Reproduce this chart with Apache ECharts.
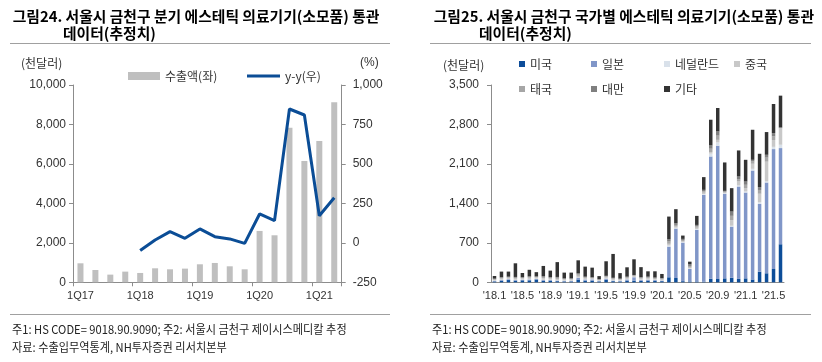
<!DOCTYPE html>
<html><head><meta charset="utf-8">
<script src="https://cdn.jsdelivr.net/npm/echarts@6/dist/echarts.min.js"></script>
<style>html,body{margin:0;padding:0;background:#fff}#c{width:822px;height:362px}</style>
</head><body><div id="c"></div>
<script>
// ---- Left chart data (quarterly) ----
const quarters = ['1Q17','2Q17','3Q17','4Q17','1Q18','2Q18','3Q18','4Q18','1Q19','2Q19','3Q19','4Q19','1Q20','2Q20','3Q20','4Q20','1Q21','2Q21'];
const exportValues = [963,625,389,541,473,710,659,693,913,980,811,659,2603,2383,7838,6150,7164,9126];
const yoyValues = [null,null,null,null,-49,18,71,29,88,39,25,-3,183,141,848,810,172,286];

// ---- Right chart data (monthly, '18.1 ~ '21.6) ----
const months = ["'18.1","'18.2","'18.3","'18.4","'18.5","'18.6","'18.7","'18.8","'18.9","'18.10","'18.11","'18.12",
  "'19.1","'19.2","'19.3","'19.4","'19.5","'19.6","'19.7","'19.8","'19.9","'19.10","'19.11","'19.12",
  "'20.1","'20.2","'20.3","'20.4","'20.5","'20.6","'20.7","'20.8","'20.9","'20.10","'20.11","'20.12",
  "'21.1","'21.2","'21.3","'21.4","'21.5","'21.6"];
const usa = [15,30,40,30,35,35,50,25,30,20,15,15,50,30,30,15,45,20,15,30,30,25,30,25,20,89,76,20,15,15,12,64,60,70,80,60,70,50,189,160,236,675];
const japan = [10,10,15,10,10,15,10,15,10,10,10,10,30,20,20,10,20,10,10,20,60,15,15,15,10,544,877,684,221,915,1539,2168,2362,1499,908,1639,1522,1933,1202,1610,2127,1706];
const netherlands = [5,5,5,5,5,5,5,5,5,5,5,5,5,5,5,5,5,5,5,5,5,5,5,5,5,20,15,10,10,15,15,50,60,10,15,20,20,30,30,20,40,59];
const china = [15,20,20,20,20,25,20,30,20,25,20,20,30,20,15,10,20,20,15,20,15,20,20,15,15,30,20,16,14,23,24,30,45,13,100,70,60,90,150,350,120,290];
const thailand = [10,15,10,15,10,15,10,20,15,20,10,10,25,15,10,10,15,15,10,15,10,15,15,15,15,40,30,20,30,25,25,58,75,15,76,40,58,40,67,72,65,10];
const taiwan = [10,10,10,15,10,10,10,15,10,15,10,10,20,10,10,5,10,10,10,10,10,10,15,10,10,41,30,20,30,25,25,58,75,15,76,48,58,30,50,50,60,7];
const others = [47,100,90,242,75,117,75,180,117,263,102,102,230,178,170,55,258,423,98,166,278,179,95,110,73,402,249,59,46,160,226,456,415,504,415,462,385,533,592,403,515,564];

const countryNames = ['미국','일본','네덜란드','중국','태국','대만','기타'];
const countryData = [usa, japan, netherlands, china, thailand, taiwan, others];
const countryColors = ['#0d4d99','#8096c8','#d9e1ea','#c8c8c8','#a6a6a6','#7f7f7f','#333333'];

const KR = '"Noto Sans CJK KR", sans-serif';
const NUM = '"Liberation Sans", Arial, sans-serif';
const NARROW = '"Liberation Sans Narrow", "Liberation Sans", Arial, sans-serif';
const axisGray = '#8c8c8c';

const chart = echarts.init(document.getElementById('c'), null, {renderer:'canvas'});

function txt(x, y, text, opts) {
  opts = opts || {};
  return {
    type: 'text', x: x, y: y, scaleX: opts.scaleX || 1, silent: true,
    style: {
      text: text, fill: opts.color || '#000',
      fontSize: opts.size || 12, fontWeight: opts.weight || 'normal',
      fontFamily: opts.family || KR,
      textVerticalAlign: 'middle', textAlign: opts.align || 'left'
    }
  };
}
function hline(x1, x2, y) {
  return { type:'line', silent:true, shape:{x1:x1,y1:y,x2:x2,y2:y}, style:{stroke:'#a0a0a0', lineWidth:1} };
}

const legendPos = [[519,58],[591,58],[664,58],[734,58],[519,83],[591,83],[664,83]];
const noteText1 = '주1: HS CODE= 9018.90.9090; 주2: 서울시 금천구 제이시스메디칼 추정';
const noteText2 = '자료: 수출입무역통계, NH투자증권 리서치본부';

const option = {
  animation: false,
  backgroundColor: '#fff',
  grid: [
    {left:73, top:85, width:268.7, height:197.3},
    {left:491, top:85, width:293, height:197.3}
  ],
  legend: [
    {data:['수출액(좌)'], left:128, top:70, padding:0, itemWidth:32, itemHeight:8, icon:'rect',
     textStyle:{fontFamily:KR, fontSize:12, color:'#333'}},
    {data:[{name:'y-y(우)', icon:'rect', itemStyle:{color:'#0b4d96'}}], left:247, top:70, padding:0, itemWidth:33, itemHeight:3,
     textStyle:{fontFamily:KR, fontSize:12, color:'#333'}}
  ].concat(countryNames.map((n,i)=>({
     data:[n], left:legendPos[i][0], top:legendPos[i][1], padding:0, itemWidth:6, itemHeight:6, icon:'rect',
     textStyle:{fontFamily:KR, fontSize:12, color:'#333'}
  }))),
  xAxis: [
    {type:'category', gridIndex:0, data:quarters, boundaryGap:true,
     axisLine:{lineStyle:{color:axisGray}},
     axisTick:{show:true, interval:3, length:4, lineStyle:{color:axisGray}},
     axisLabel:{interval:3, color:'#333', fontSize:11, fontFamily:NARROW, margin:8}},
    {type:'category', gridIndex:1, data:months, boundaryGap:true,
     axisLine:{lineStyle:{color:axisGray}},
     axisTick:{show:false},
     axisLabel:{interval:3, color:'#333', fontSize:11, fontFamily:NARROW, margin:8}}
  ],
  yAxis: [
    {type:'value', gridIndex:0, min:0, max:10000, interval:2000, position:'left',
     axisLine:{show:true, lineStyle:{color:axisGray}},
     axisTick:{show:true, length:4, lineStyle:{color:axisGray}},
     splitLine:{show:false},
     axisLabel:{color:'#333', fontSize:12, fontFamily:NUM, margin:7}},
    {type:'value', gridIndex:0, min:-250, max:1000, interval:250, position:'right',
     axisLine:{show:true, lineStyle:{color:axisGray}},
     axisTick:{show:true, length:4, lineStyle:{color:axisGray}},
     splitLine:{show:false},
     axisLabel:{color:'#333', fontSize:12, fontFamily:NUM, margin:11}},
    {type:'value', gridIndex:1, min:0, max:3500, interval:700,
     axisLine:{show:true, lineStyle:{color:axisGray}},
     axisTick:{show:true, length:4, lineStyle:{color:axisGray}},
     splitLine:{show:false},
     axisLabel:{color:'#333', fontSize:12, fontFamily:NUM, margin:12}}
  ],
  series: [
    {name:'수출액(좌)', type:'bar', xAxisIndex:0, yAxisIndex:0, data:exportValues, barWidth:6,
     itemStyle:{color:'#bfbfbf'}},
    {name:'y-y(우)', type:'line', xAxisIndex:0, yAxisIndex:1, data:yoyValues, symbol:'none',
     lineStyle:{color:'#0b4d96', width:3}, itemStyle:{color:'#0b4d96'}}
  ].concat(countryNames.map((n,i)=>({
     name:n, type:'bar', xAxisIndex:1, yAxisIndex:2, stack:'c', data:countryData[i], barWidth:3.5,
     itemStyle:{color:countryColors[i]}
  }))),
  graphic: [
    txt(12.7, 16, '그림24. 서울시 금천구 분기 에스테틱 의료기기(소모품) 통관', {size:14.8, weight:'bold'}),
    txt(63, 33, '데이터(추정치)', {size:14.8, weight:'bold'}),
    txt(433.7, 16, '그림25. 서울시 금천구 국가별 에스테틱 의료기기(소모품) 통관', {size:14.8, weight:'bold'}),
    txt(479, 33, '데이터(추정치)', {size:14.8, weight:'bold'}),
    hline(10, 390, 43.5), hline(430, 811, 43.5),
    txt(21, 63, '(천달러)', {size:12, color:'#333'}),
    txt(360, 63, '(%)', {size:12, color:'#333', family:NUM}),
    txt(443, 65, '(천달러)', {size:12, color:'#333'}),
    hline(10, 390, 314.5), hline(430, 811, 314.5),
    txt(12, 329, noteText1, {size:12, color:'#222', scaleX:0.93}),
    txt(12, 347, noteText2, {size:12, color:'#222', scaleX:0.93}),
    txt(432, 329, noteText1, {size:12, color:'#222', scaleX:0.93}),
    txt(432, 347, noteText2, {size:12, color:'#222', scaleX:0.93})
  ]
};
chart.setOption(option);
</script>
</body></html>
